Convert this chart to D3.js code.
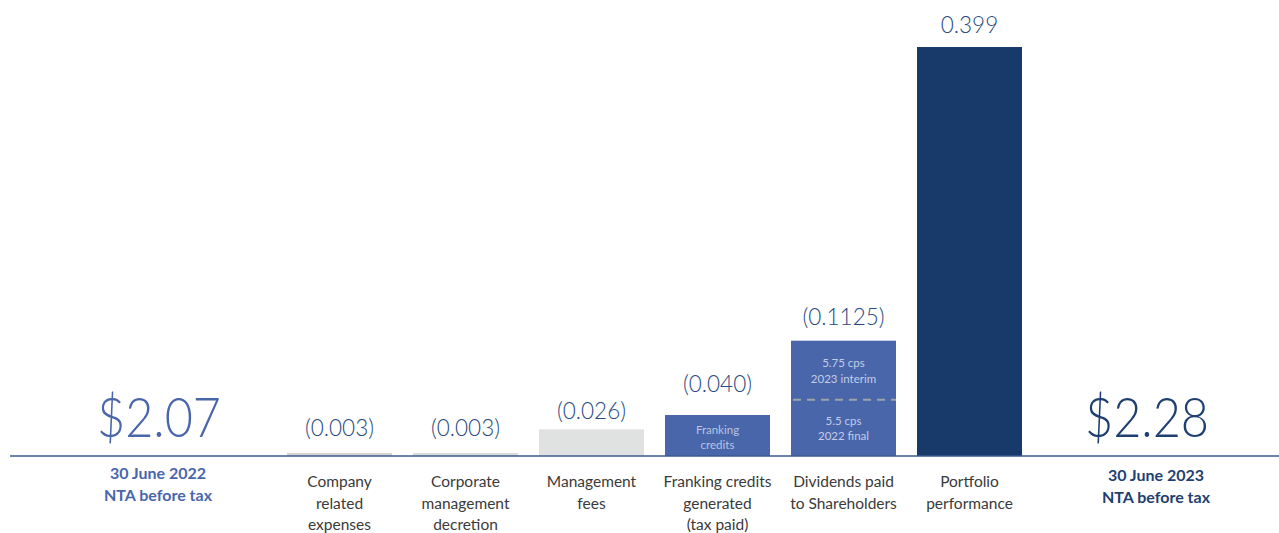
<!DOCTYPE html>
<html><head><meta charset="utf-8">
<script src="https://cdn.jsdelivr.net/npm/d3@7"></script>
<style>
html,body{margin:0;padding:0;background:#fff;}
svg{display:block;font-family:Lato,"Open Sans",sans-serif;}
</style></head>
<body><svg id="c" width="1279" height="533"></svg>
<script>
// ---- data ----
const categories = ["Company related expenses","Corporate management decretion","Management fees","Franking credits generated (tax paid)","Dividends paid to Shareholders","Portfolio performance"];
const categoryLines = [["Company","related","expenses"],["Corporate","management","decretion"],["Management","fees"],["Franking credits","generated","(tax paid)"],["Dividends paid","to Shareholders"],["Portfolio","performance"]];
const values = [0.003, 0.003, 0.026, 0.040, 0.1125, 0.399];
const valueLabels = ["(0.003)","(0.003)","(0.026)","(0.040)","(0.1125)","0.399"];
const dividendParts = [0.055, 0.0575];
const dividendPartLabels = [["5.5 cps","2022 final"],["5.75 cps","2023 interim"]];
const frankingInner = ["Franking","credits"];
const ntaStart = {value:"$2.07", lines:["30 June 2022","NTA before tax"]};
const ntaEnd = {value:"$2.28", lines:["30 June 2023","NTA before tax"]};

// ---- drawing ----
const svg = d3.select("#c");
const baseY = 456;
const x = d3.scaleBand().domain(categories).range([276.5, 1032.5]).paddingInner(1/6).paddingOuter(1/12);
const y = d3.scaleLinear().domain([0, 0.4]).range([baseY, baseY - 410]);

const barColors = ["#d9d2d2","#d5dcd9","#dfe2e1","#4a66ab","#4a66ab","#173a6b"];
const labelDy = [17, 17, 10, 23, 16, 14];

svg.selectAll("rect.bar").data(categories).join("rect")
  .attr("class","bar")
  .attr("x", d => x(d)).attr("width", x.bandwidth())
  .attr("y", (d,i) => y(values[i])).attr("height", (d,i) => baseY - y(values[i]))
  .attr("fill", (d,i) => barColors[i]);

// value labels
svg.selectAll("text.val").data(categories).join("text")
  .attr("class","val")
  .attr("x", d => x(d) + x.bandwidth()/2)
  .attr("y", (d,i) => y(values[i]) - labelDy[i])
  .attr("text-anchor","middle")
  .attr("font-size", 22.5).attr("font-weight", 300)
  .attr("fill", "#2a4a80")
  .text((d,i) => valueLabels[i]);

// category labels
categories.forEach((c,i) => {
  const t = svg.append("text").attr("text-anchor","middle").attr("font-size",15.5).attr("fill","#3a3a3a");
  categoryLines[i].forEach((ln,j) => {
    t.append("tspan").attr("x", x(c) + x.bandwidth()/2).attr("y", 487 + j*21.5).text(ln);
  });
});

// franking inner text
const fc = categories[3];
frankingInner.forEach((ln,j) => {
  svg.append("text").attr("x", x(fc)+x.bandwidth()/2).attr("y", 434 + j*15)
    .attr("text-anchor","middle").attr("font-size",11.5).attr("fill","#b9c4e0").text(ln);
});

// dividend split
const dc = categories[4];
const splitY = y(dividendParts[0]);
svg.append("line").attr("x1", x(dc)+2).attr("x2", x(dc)+x.bandwidth())
  .attr("y1", splitY).attr("y2", splitY)
  .attr("stroke","#9ea3a8").attr("stroke-width",2).attr("stroke-dasharray","8,6");
const partTops = [y(dividendParts[0]), y(dividendParts[0]+dividendParts[1])];
const partBottoms = [baseY, y(dividendParts[0])];
dividendPartLabels.forEach((lines,k) => {
  const mid = (partTops[k] + partBottoms[k]) / 2;
  lines.forEach((ln,j) => {
    svg.append("text").attr("x", x(dc)+x.bandwidth()/2).attr("y", mid - 3 + j*15.5)
      .attr("text-anchor","middle").attr("font-size",11.5).attr("fill","#c3cce6").text(ln);
  });
});

// baseline
svg.append("line").attr("x1",10).attr("x2",1279).attr("y1",baseY).attr("y2",baseY)
  .attr("stroke","#3b5a92").attr("stroke-width",1.5);

// NTA texts
function nta(obj, cx, lx, color, ly) {
  svg.append("text").attr("x", cx).attr("y", 437).attr("text-anchor","middle")
    .attr("font-size", 56).attr("font-weight",300).attr("fill", color)
    .attr("textLength", 124).attr("lengthAdjust","spacingAndGlyphs").text(obj.value);
  obj.lines.forEach((ln,j) => {
    svg.append("text").attr("x", lx).attr("y", ly + j*21.5).attr("text-anchor","middle")
      .attr("font-size", 16).attr("font-weight", 700).attr("fill", color).text(ln);
  });
}
nta(ntaStart, 159, 158, "#4a66ab", 479);
nta(ntaEnd, 1147, 1156, "#1f3f72", 481);
</script></body></html>
